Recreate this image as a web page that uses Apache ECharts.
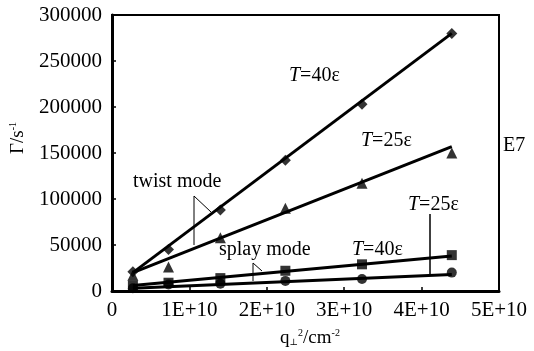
<!DOCTYPE html>
<html>
<head>
<meta charset="utf-8">
<script src="https://cdn.jsdelivr.net/npm/echarts@6/dist/echarts.min.js"></script>
<style>
  html, body { margin: 0; padding: 0; background: #fff; }
  #chart { width: 534px; height: 351px; }
</style>
</head>
<body>
<div id="chart"></div>
<script>
// q^2 values (cm^-2)
let qSq = [0.27e10, 0.73e10, 1.40e10, 2.24e10, 3.23e10, 4.39e10]
// measured rates
let twist40 = [21000, 45000, 88000, 142000, 203000, 280000]
let twist25 = [17000, 26000, 58000, 90000, 117000, 150000]
let splay40 = [6000, 9000, 14000, 22000, 29000, 39000]
let splay25 = [3000, 7000, 8000, 11000, 13000, 20000]
// fitted lines (start / end)
let fitX = [0.27e10, 4.39e10]
let fitTwist40 = [20000, 280000]
let fitTwist25 = [20000, 157000]
let fitSplay40 = [6000, 38000]
let fitSplay25 = [3000, 18000]

const FONT = '"Liberation Serif", "DejaVu Serif", serif'
const pair = (xs, ys) => xs.map((x, i) => [x, ys[i]])

let chart = echarts.init(document.getElementById('chart'))

function fitSeries(ys) {
  return {
    type: 'line',
    data: pair(fitX, ys),
    symbol: 'none',
    lineStyle: { color: '#000', width: 3 },
    z: 2,
    silent: true
  }
}
function pointSeries(ys, symbol, size) {
  return {
    type: 'scatter',
    data: pair(qSq, ys),
    symbol: symbol,
    symbolSize: size,
    itemStyle: { color: '#000' },
    z: 3
  }
}

let tLabel = (txt) => ({
  text: '{i|T}=' + txt,
  fill: '#000',
  font: '20px ' + FONT,
  rich: { i: { fontStyle: 'italic', fontSize: 20, fontFamily: FONT } }
})

let option = {
  animation: false,
  backgroundColor: '#fff',
  grid: {
    left: 112, right: 35, top: 15, bottom: 60,
    show: true, borderColor: '#000', borderWidth: 2, backgroundColor: 'transparent'
  },
  xAxis: {
    type: 'value',
    min: 0, max: 5e10, interval: 1e10,
    axisLine: { lineStyle: { color: '#000', width: 3 } },
    axisTick: { inside: true, length: 4, lineStyle: { color: '#000', width: 1.5 } },
    splitLine: { show: false },
    axisLabel: {
      color: '#000', fontFamily: FONT, fontSize: 21, margin: 9,
      formatter: v => v === 0 ? '0' : (v / 1e10) + 'E+10'
    }
  },
  yAxis: {
    type: 'value',
    min: 0, max: 300000, interval: 50000,
    axisLine: { lineStyle: { color: '#000', width: 3 } },
    axisTick: { inside: true, length: 4, lineStyle: { color: '#000', width: 1.5 } },
    splitLine: { show: false },
    axisLabel: { color: '#000', fontFamily: FONT, fontSize: 21, margin: 10, formatter: v => String(v) }
  },
  graphic: [
    // axis names
    {
      type: 'text', x: 18, y: 138, rotation: Math.PI / 2,
      style: {
        text: 'Γ/s{s|-1}', fill: '#000', font: '19px ' + FONT,
        align: 'center', verticalAlign: 'middle',
        rich: { s: { fontSize: 10, verticalAlign: 'top', fontFamily: FONT } }
      }
    },
    {
      type: 'text', x: 310, y: 338,
      style: {
        text: 'q{b|⊥}{s|2}/cm{s|-2}', fill: '#000', font: '19px ' + FONT,
        align: 'center', verticalAlign: 'middle',
        rich: {
          b: { fontSize: 9, fontFamily: FONT, padding: [10, 0, 0, 0] },
          s: { fontSize: 10, fontFamily: FONT, padding: [0, 0, 10, 0] }
        }
      }
    },
    // annotations
    { type: 'text', x: 289, y: 66, style: tLabel('40ε') },
    { type: 'text', x: 361, y: 131, style: tLabel('25ε') },
    { type: 'text', x: 408, y: 195, style: tLabel('25ε') },
    { type: 'text', x: 352, y: 240, style: tLabel('40ε') },
    { type: 'text', x: 503, y: 136, style: { text: 'E7', fill: '#000', font: '20px ' + FONT } },
    { type: 'text', x: 133, y: 172, style: { text: 'twist mode', fill: '#000', font: '20px ' + FONT } },
    { type: 'text', x: 219, y: 240, style: { text: 'splay mode', fill: '#000', font: '20px ' + FONT } },
    // callout lines
    { type: 'polyline', shape: { points: [[194, 245], [194, 196], [211, 212]] }, style: { stroke: '#000', lineWidth: 1, fill: null } },
    { type: 'polyline', shape: { points: [[253, 281], [253, 263], [262, 271]] }, style: { stroke: '#000', lineWidth: 1, fill: null } },
    { type: 'line', shape: { x1: 430, y1: 214, x2: 430, y2: 276 }, style: { stroke: '#000', lineWidth: 1.5 } }
  ],
  series: [
    fitSeries(fitTwist40),
    fitSeries(fitTwist25),
    fitSeries(fitSplay40),
    fitSeries(fitSplay25),
    pointSeries(twist40, 'diamond', 11),
    pointSeries(twist25, 'triangle', 11),
    pointSeries(splay40, 'rect', 10),
    pointSeries(splay25, 'circle', 10)
  ]
}

chart.setOption(option)
</script>
</body>
</html>
